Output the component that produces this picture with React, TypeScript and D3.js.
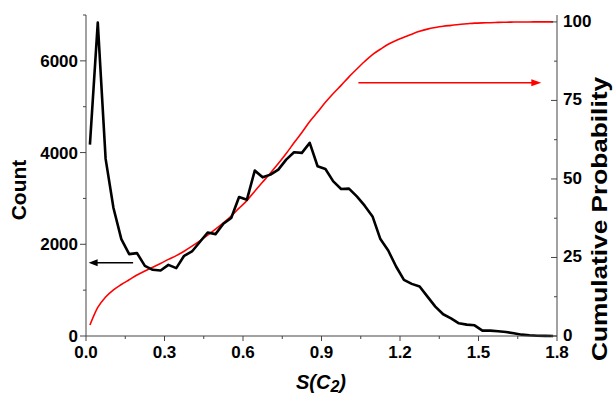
import React from "react";
import * as d3 from "d3";

const binCenters = [
  0.015, 0.045, 0.075, 0.105, 0.135, 0.165, 0.195, 0.225, 0.255, 0.285,
  0.315, 0.345, 0.375, 0.405, 0.435, 0.465, 0.495, 0.525, 0.555, 0.585,
  0.615, 0.645, 0.675, 0.705, 0.735, 0.765, 0.795, 0.825, 0.855, 0.885,
  0.915, 0.945, 0.975, 1.005, 1.035, 1.065, 1.095, 1.125, 1.155, 1.185,
  1.215, 1.245, 1.275, 1.305, 1.335, 1.365, 1.395, 1.425, 1.455, 1.485,
  1.515, 1.545, 1.575, 1.605, 1.635, 1.665, 1.695, 1.725, 1.755, 1.785,
];

const counts = [
  4175, 6835, 3862, 2791, 2113, 1785, 1807, 1530, 1443, 1428,
  1552, 1480, 1749, 1843, 2050, 2258, 2222, 2448, 2572, 3031,
  2973, 3607, 3460, 3519, 3628, 3847, 4007, 3993, 4212, 3701,
  3643, 3373, 3206, 3213, 3045, 2842, 2608, 2113, 1865, 1515,
  1224, 1137, 1078, 859, 641, 474, 386, 277, 248, 233,
  117, 117, 102, 87, 58, 29, 15, 5, 2, 0,
];

const cumulative = [
  3.5, 9.1, 12.4, 14.7, 16.4, 17.9, 19.4, 20.7, 21.9, 23.1,
  24.4, 25.6, 27.0, 28.6, 30.3, 32.1, 34.0, 36.0, 38.2, 40.7,
  43.1, 46.1, 49.0, 51.9, 54.9, 58.1, 61.5, 64.8, 68.3, 71.3,
  74.4, 77.2, 79.8, 82.5, 85.0, 87.4, 89.6, 91.3, 92.9, 94.1,
  95.1, 96.1, 97.0, 97.7, 98.2, 98.6, 98.9, 99.2, 99.4, 99.6,
  99.7, 99.75, 99.84, 99.91, 99.96, 99.98, 99.99, 100, 100, 100,
];

const xTicks = [0, 0.3, 0.6, 0.9, 1.2, 1.5, 1.8];
const xMinorTicks = [0.15, 0.45, 0.75, 1.05, 1.35, 1.65];
const countTicks = [0, 2000, 4000, 6000];
const countMinorTicks = [1000, 3000, 5000, 7000];
const probTicks = [0, 25, 50, 75, 100];
const probMinorTicks = [12.5, 37.5, 62.5, 87.5];

const W = 613;
const H = 395;
const X0 = 86, X1 = 557, Y0 = 336, Y1 = 15;
const FONT = "'Liberation Sans', Arial, Helvetica, sans-serif";

export default function App() {
  const x = d3.scaleLinear().domain([0, 1.8]).range([X0, X1]);
  const yL = d3.scaleLinear().domain([0, 7000]).range([Y0, Y1]);
  const yR = d3.scaleLinear().domain([0, 102.2]).range([Y0, Y1]);

  const countLine = d3
    .line<number>()
    .x((_, i) => x(binCenters[i]))
    .y((d) => yL(d))(counts) as string;

  const cumLine = d3
    .line<number>()
    .x((_, i) => x(binCenters[i]))
    .y((d) => yR(d))
    .curve(d3.curveMonotoneX)(cumulative) as string;

  const axisColor = "#444";
  const blackArrowY = yL(1600);
  const redArrowY = yR(80.6);

  return (
    <svg
      width={W}
      height={H}
      style={{ position: "absolute", left: 0, top: 0, background: "#fff" }}
      fontFamily={FONT}
    >
      <rect width={W} height={H} fill="#fff" />
      {/* data */}
      <path d={cumLine} fill="none" stroke="#ff0000" strokeWidth={1.6} />
      <path d={countLine} fill="none" stroke="#000" strokeWidth={2.6} strokeLinejoin="round" />

      {/* arrows */}
      <line x1={x(0.18)} x2={x(0.01) + 7} y1={blackArrowY} y2={blackArrowY} stroke="#000" strokeWidth={1.5} />
      <path
        d={`M${x(0.01)},${blackArrowY} L${x(0.01) + 9},${blackArrowY - 3.5} L${x(0.01) + 9},${blackArrowY + 3.5} Z`}
        fill="#000"
      />
      <line x1={x(1.041)} x2={x(1.74) - 8} y1={redArrowY} y2={redArrowY} stroke="#ff0000" strokeWidth={1.5} />
      <path
        d={`M${x(1.74)},${redArrowY} L${x(1.74) - 10},${redArrowY - 3.5} L${x(1.74) - 10},${redArrowY + 3.5} Z`}
        fill="#ff0000"
      />

      {/* left axis */}
      <line x1={X0} x2={X0} y1={Y0} y2={Y1} stroke={axisColor} strokeWidth={1} />
      {countTicks.map((t) => (
        <g key={"cl" + t}>
          <line x1={X0 - 6} x2={X0} y1={yL(t)} y2={yL(t)} stroke={axisColor} strokeWidth={1} />
          <text x={X0 - 8} y={yL(t) + 6} textAnchor="end" fontSize={17} fontWeight="bold" fill="#000">
            {t}
          </text>
        </g>
      ))}
      {countMinorTicks.map((t) => (
        <line key={"cm" + t} x1={X0 - 3} x2={X0} y1={yL(t)} y2={yL(t)} stroke={axisColor} strokeWidth={1} />
      ))}

      {/* right axis */}
      <line x1={X1} x2={X1} y1={Y0} y2={Y1} stroke={axisColor} strokeWidth={1} />
      {probTicks.map((t) => (
        <g key={"pr" + t}>
          <line x1={X1 - 6} x2={X1} y1={yR(t)} y2={yR(t)} stroke={axisColor} strokeWidth={1} />
          <text x={X1 + 6} y={yR(t) + 5} textAnchor="start" fontSize={17} fontWeight="bold" fill="#000">
            {t}
          </text>
        </g>
      ))}
      {probMinorTicks.map((t) => (
        <line key={"pm" + t} x1={X1 - 3} x2={X1} y1={yR(t)} y2={yR(t)} stroke={axisColor} strokeWidth={1} />
      ))}

      {/* bottom axis */}
      <line x1={X0} x2={X1} y1={Y0} y2={Y0} stroke={axisColor} strokeWidth={1} />
      {xTicks.map((t) => (
        <g key={"x" + t}>
          <line x1={x(t)} x2={x(t)} y1={Y0} y2={Y0 + 5} stroke={axisColor} strokeWidth={1} />
          <text x={x(t)} y={358} textAnchor="middle" fontSize={17} fontWeight="bold" fill="#000">
            {t.toFixed(1)}
          </text>
        </g>
      ))}
      {xMinorTicks.map((t) => (
        <line key={"xm" + t} x1={x(t)} x2={x(t)} y1={Y0} y2={Y0 + 3} stroke={axisColor} strokeWidth={1} />
      ))}

      {/* titles */}
      <text
        transform={`translate(25.5,190) rotate(-90)`}
        textAnchor="middle"
        fontSize={21}
        fontWeight="bold"
        fill="#000"
      >
        Count
      </text>
      <text
        transform={`translate(607,219) rotate(-90)`}
        textAnchor="middle"
        fontSize={22}
        fontWeight="bold"
        fill="#000"
        textLength={284}
        lengthAdjust="spacingAndGlyphs"
      >
        Cumulative Probability
      </text>
      <text x={321} y={389} textAnchor="middle" fontSize={20} fontWeight="bold" fontStyle="italic" fill="#000">
        S(C<tspan fontSize={16} dy={3}>2</tspan>
        <tspan dy={-3}>)</tspan>
      </text>
    </svg>
  );
}
